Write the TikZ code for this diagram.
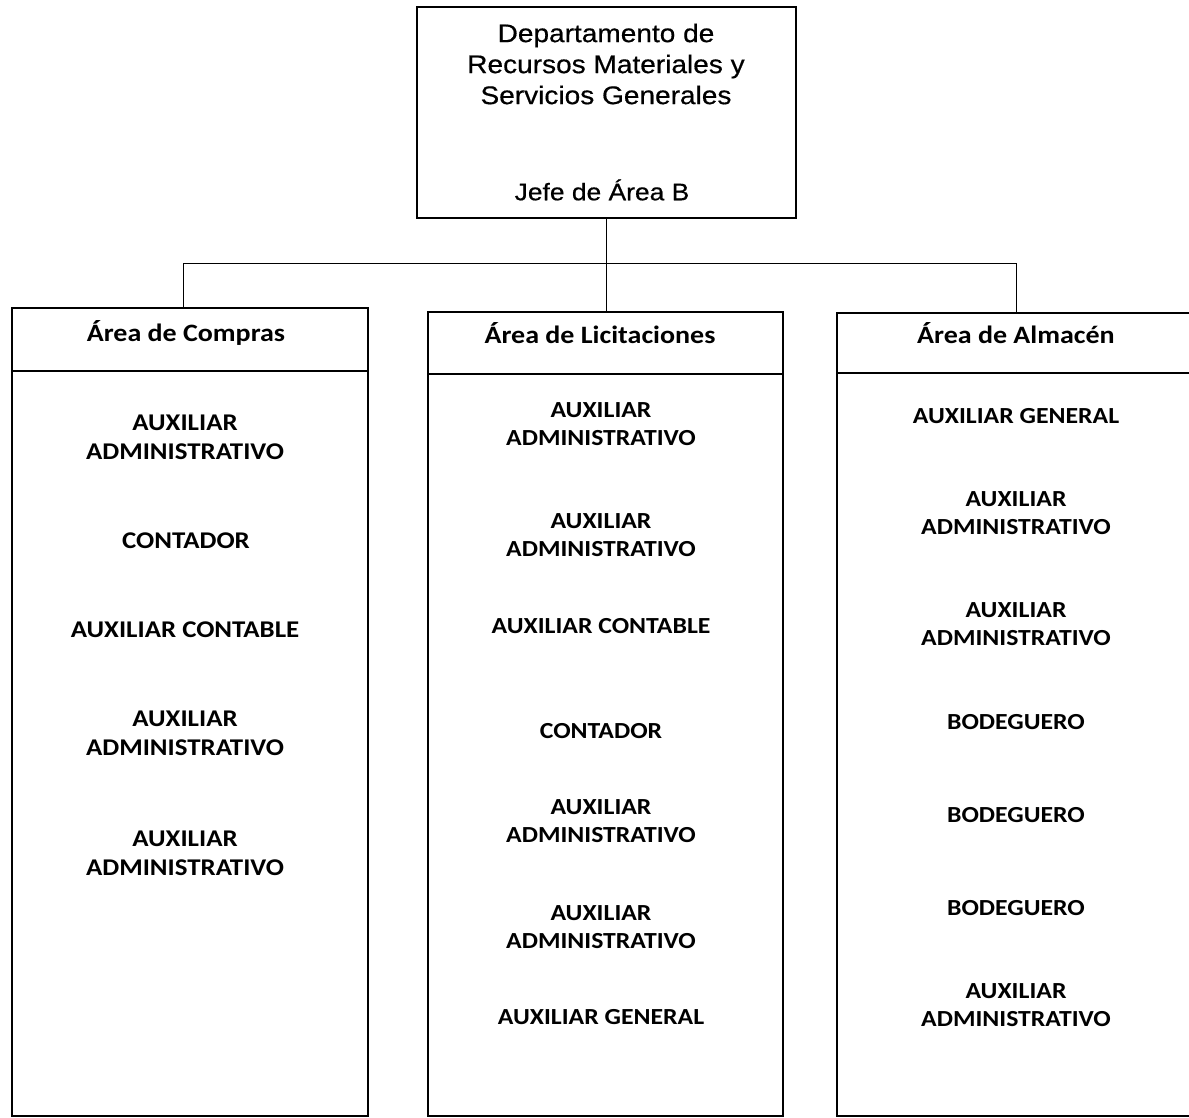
\documentclass[tikz,border=0pt]{standalone}
\usepackage{fontspec}
\setmainfont{Carlito}[FakeStretch=1.12]
\newfontfamily\arialf{Liberation Sans}[FakeStretch=1.1,FakeBold=0.5]
\begin{document}
\begin{tikzpicture}[x=1pt,y=1pt,line width=1.6pt,
  colbox/.style={draw,rectangle,inner sep=0pt,anchor=north west},
  hdr/.style={font=\bfseries\fontsize{25}{28}\selectfont,inner sep=0pt},
  item/.style={font=\bfseries\fontsize{23}{28.5}\selectfont,align=center,inner sep=0pt},
  itemL/.style={item,font=\bfseries\fontsize{24}{29}\selectfont},
  conn/.style={line width=1.2pt}]
\useasboundingbox (0,0) rectangle (1189,1117);
\clip (0,0) rectangle (1189,1117);
% top box
\node[draw,minimum width=379,minimum height=211,inner sep=0pt] (top) at (606.5,1004.5) {};
\node[font=\arialf\fontsize{25.5}{31}\selectfont,align=center,inner sep=0pt] (title) at (606,1053) {Departamento de\\Recursos Materiales y\\Servicios Generales};
\node[font=\arialf\fontsize{24}{28}\selectfont,inner sep=0pt] (jefe) at (602,927) {Jefe de Área B};
% column boxes
\node[colbox,minimum width=356,minimum height=808] (compras) at (11,810) {};
\node[colbox,minimum width=355,minimum height=804] (licit) at (427,806) {};
\node[colbox,minimum width=370,minimum height=803] (almacen) at (836,805) {};
\draw ([yshift=-64]compras.north west) -- ([yshift=-64]compras.north east);
\draw ([yshift=-63]licit.north west) -- ([yshift=-63]licit.north east);
\draw ([yshift=-61]almacen.north west) -- ([yshift=-61]almacen.north east);
% connectors
\draw[conn] (top.south) -- ++(0,-45) coordinate (bus);
\draw[conn] (bus) -- (bus |- licit.north);
\draw[conn] ([xshift=-6]compras.north) |- (bus) -| ([xshift=-5]almacen.north);
% headers
\node[hdr] (hc) at (186,784) {Área de Compras};
\node[hdr] (hl) at (600,784) {Área de Licitaciones};
\node[hdr] (ha) at (1016,784) {Área de Almacén};
% left column
\node[itemL] (c1) at (185,680) {AUXILIAR\\ADMINISTRATIVO};
\node[itemL] (c2) at (186,576) {CONTADOR};
\node[itemL] (c3) at (185,487) {AUXILIAR CONTABLE};
\node[itemL] (c4) at (185,384) {AUXILIAR\\ADMINISTRATIVO};
\node[itemL] (c5) at (185,264) {AUXILIAR\\ADMINISTRATIVO};
% middle column
\node[item] (l1) at (601,693) {AUXILIAR\\ADMINISTRATIVO};
\node[item] (l2) at (601,582) {AUXILIAR\\ADMINISTRATIVO};
\node[item] (l3) at (601,491) {AUXILIAR CONTABLE};
\node[item] (l4) at (601,386) {CONTADOR};
\node[item] (l5) at (601,296) {AUXILIAR\\ADMINISTRATIVO};
\node[item] (l6) at (601,190) {AUXILIAR\\ADMINISTRATIVO};
\node[item] (l7) at (601,100) {AUXILIAR GENERAL};
% right column
\node[item] (a1) at (1016,701) {AUXILIAR GENERAL};
\node[item] (a2) at (1016,604) {AUXILIAR\\ADMINISTRATIVO};
\node[item] (a3) at (1016,493) {AUXILIAR\\ADMINISTRATIVO};
\node[item] (a4) at (1016,395) {BODEGUERO};
\node[item] (a5) at (1016,302) {BODEGUERO};
\node[item] (a6) at (1016,209) {BODEGUERO};
\node[item] (a7) at (1016,112) {AUXILIAR\\ADMINISTRATIVO};
\end{tikzpicture}
\end{document}
